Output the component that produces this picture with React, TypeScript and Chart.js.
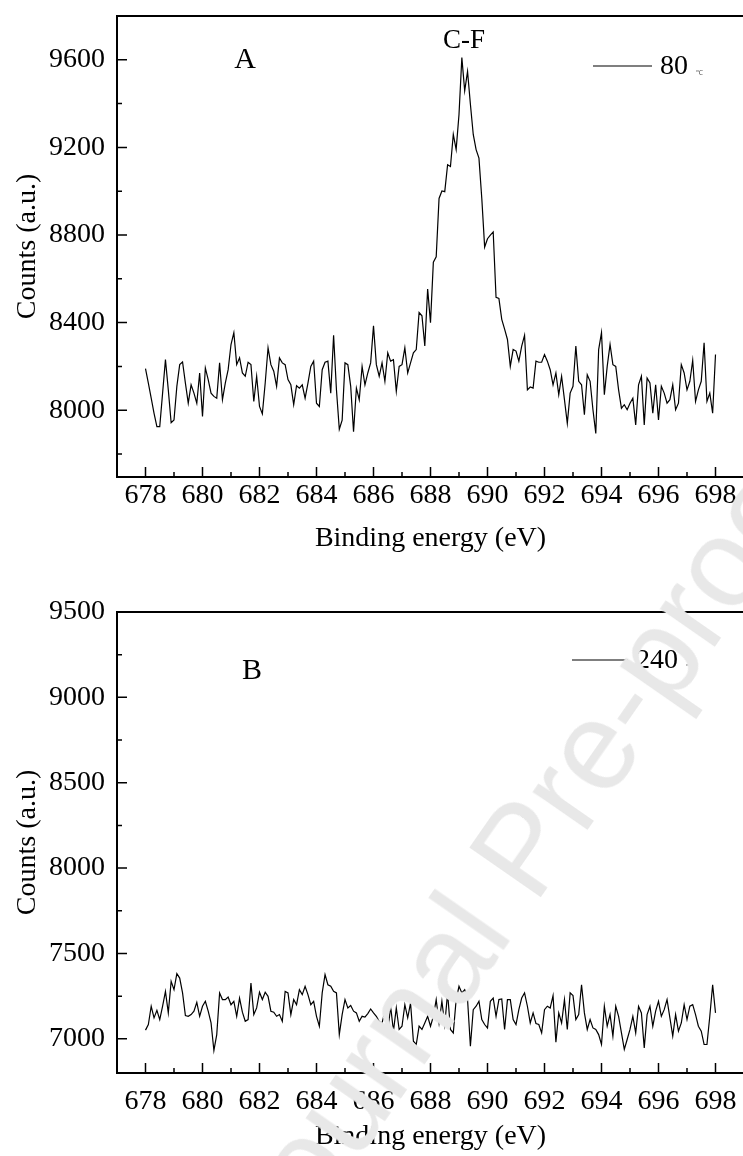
import { useEffect, useRef } from "react";
import { Chart, registerables } from "chart.js";

Chart.register(...registerables);

const SERIF = '"Liberation Serif", "Times New Roman", Times, serif';

// Sampling grid of the spectra (eV)
const energyStart = 678;
const energyStep = 0.1;

// Panel A (80 ℃) counts, 678.0 … 698.0 eV
const countsA = [
  8190, 8124, 8055, 7986, 7925, 7925, 8078, 8231, 8093, 7943,
  7955, 8109, 8208, 8220, 8124, 8032, 8116, 8078, 8032, 8170,
  7971, 8193, 8140, 8078, 8063, 8055, 8216, 8048, 8124, 8185,
  8300, 8354, 8208, 8239, 8170, 8155, 8219, 8208, 8040, 8155,
  8017, 7983, 8124, 8285, 8208, 8178, 8109, 8239, 8216, 8208,
  8140, 8116, 8025, 8112, 8101, 8116, 8055, 8124, 8200, 8224,
  8032, 8017, 8185, 8219, 8224, 8078, 8342, 8093, 7913, 7955,
  8216, 8208, 8109, 7902, 8101, 8048, 8200, 8116, 8170, 8216,
  8385, 8208, 8155, 8216, 8132, 8262, 8224, 8231, 8086, 8200,
  8208, 8285, 8170, 8216, 8262, 8277, 8446, 8431, 8293, 8553,
  8400, 8676, 8700, 8967, 9001, 8998, 9121, 9113, 9259, 9190,
  9350, 9610, 9458, 9547, 9397, 9259, 9190, 9151, 8967, 8745,
  8783, 8799, 8814, 8515, 8510, 8415, 8370, 8323, 8200, 8277,
  8270, 8224, 8293, 8342, 8093, 8106, 8101, 8224, 8219, 8219,
  8254, 8224, 8185, 8116, 8170, 8071, 8155, 8048, 7940, 8078,
  8109, 8293, 8132, 8116, 7979, 8162, 8132, 8002, 7894, 8277,
  8354, 8071, 8200, 8300, 8208, 8200, 8093, 8009, 8025, 8002,
  8032, 8055, 7933, 8116, 8155, 7933, 8147, 8124, 7986, 8116,
  7955, 8109, 8078, 8032, 8048, 8116, 8002, 8032, 8208, 8170,
  8093, 8132, 8228, 8040, 8093, 8132, 8308, 8040, 8078, 7986,
  8254,
];

// Panel B (240 ℃) counts, 678.0 … 698.0 eV
const countsB = [
  7051, 7084, 7191, 7123, 7167, 7113, 7191, 7278, 7152, 7337,
  7288, 7382, 7356, 7269, 7136, 7132, 7142, 7162, 7214, 7132,
  7191, 7220, 7162, 7093, 6932, 7025, 7269, 7230, 7230, 7245,
  7200, 7220, 7132, 7239, 7156, 7103, 7113, 7327, 7142, 7181,
  7273, 7230, 7273, 7249, 7162, 7156, 7132, 7142, 7103, 7278,
  7269, 7142, 7230, 7200, 7288, 7259, 7308, 7259, 7200, 7220,
  7132, 7074, 7269, 7376, 7317, 7308, 7278, 7269, 7025, 7142,
  7230, 7181, 7195, 7162, 7152, 7103, 7132, 7127, 7148, 7175,
  7152, 7132, 7103, 7093, 7162, 7035, 7191, 7045, 7181, 7055,
  7074, 7200, 7123, 7210, 6986, 6967, 7074, 7055, 7093, 7132,
  7074, 7132, 7230, 7093, 7220, 7084, 7269, 7055, 7035, 7230,
  7308, 7269, 7288, 7230, 6957, 7171, 7191, 7220, 7113, 7084,
  7064, 7220, 7239, 7132, 7230, 7234, 7055, 7230, 7230, 7113,
  7084, 7171, 7239, 7269, 7191, 7093, 7152, 7090, 7084, 7035,
  7171, 7191, 7181, 7253, 6981, 7152, 7093, 7230, 7055, 7269,
  7253, 7113, 7142, 7317, 7152, 7055, 7113, 7064, 7055, 7025,
  6967, 7191, 7074, 7142, 7016, 7191, 7132, 7035, 6938, 6996,
  7055, 7132, 7035, 7191, 7152, 6947, 7142, 7191, 7074, 7162,
  7220, 7132, 7171, 7230, 7123, 7016, 7142, 7045, 7093, 7200,
  7113, 7191, 7200, 7142, 7074, 7045, 6967, 6967, 7132, 7317,
  7152,
];

const xMajorTicks = [678, 680, 682, 684, 686, 688, 690, 692, 694, 696, 698];
const xMinorTicks = [679, 681, 683, 685, 687, 689, 691, 693, 695, 697];
const yMajorTicksA = [8000, 8400, 8800, 9200, 9600];
const yMinorTicksA = [7800, 8200, 8600, 9000, 9400];
const yMajorTicksB = [7000, 7500, 8000, 8500, 9000, 9500];
const yMinorTicksB = [7250, 7750, 8250, 8750, 9250];

const xLabel = "Binding energy (eV)";
const yLabel = "Counts (a.u.)";

type Deco = {
  panel: string;
  panelX: number;
  panelY: number;
  peakText?: string;
  peakX?: number;
  peakY?: number;
  legX1: number;
  legX2: number;
  legY: number;
  legText: string;
  yMajor: number[];
  yMinor: number[];
};

function decoPlugin(d: Deco) {
  return {
    id: "deco",
    afterDraw(chart: any) {
      const ctx = chart.ctx as CanvasRenderingContext2D;
      const a = chart.chartArea;
      const xs = chart.scales.x;
      const ys = chart.scales.y;
      ctx.save();
      ctx.strokeStyle = "#000";
      ctx.lineWidth = 1.5;
      ctx.beginPath();
      for (const v of xMajorTicks) {
        const px = xs.getPixelForValue(v);
        ctx.moveTo(px, a.bottom);
        ctx.lineTo(px, a.bottom - 10);
      }
      for (const v of xMinorTicks) {
        const px = xs.getPixelForValue(v);
        ctx.moveTo(px, a.bottom);
        ctx.lineTo(px, a.bottom - 5);
      }
      for (const v of d.yMajor) {
        const py = ys.getPixelForValue(v);
        ctx.moveTo(a.left, py);
        ctx.lineTo(a.left + 10, py);
      }
      for (const v of d.yMinor) {
        const py = ys.getPixelForValue(v);
        ctx.moveTo(a.left, py);
        ctx.lineTo(a.left + 5, py);
      }
      ctx.stroke();
      ctx.lineWidth = 2;
      ctx.strokeRect(a.left, a.top, a.right - a.left, a.bottom - a.top);

      ctx.fillStyle = "#000";
      ctx.textBaseline = "middle";
      ctx.textAlign = "center";
      ctx.font = `30px ${SERIF}`;
      ctx.fillText(d.panel, d.panelX, d.panelY);
      if (d.peakText) {
        ctx.font = `27px ${SERIF}`;
        ctx.fillText(d.peakText, d.peakX!, d.peakY!);
      }
      // legend
      ctx.lineWidth = 1.2;
      ctx.beginPath();
      ctx.moveTo(d.legX1, d.legY);
      ctx.lineTo(d.legX2, d.legY);
      ctx.stroke();
      ctx.textAlign = "left";
      ctx.font = `28px ${SERIF}`;
      ctx.fillText(d.legText, d.legX2 + 8, d.legY + 1);
      const w = ctx.measureText(d.legText).width;
      ctx.font = `7px ${SERIF}`;
      ctx.fillStyle = "#555";
      ctx.fillText("℃", d.legX2 + 8 + w + 8, d.legY + 7);
      ctx.restore();
    },
  };
}

function makeConfig(
  counts: number[],
  yMin: number,
  yMax: number,
  yTicks: number[],
  padTop: number,
  xTickPad: number,
  xTitlePad: number,
  deco: Deco
) {
  const points = counts.map((c, i) => ({ x: +(energyStart + i * energyStep).toFixed(1), y: c }));
  return {
    type: "line" as const,
    data: {
      datasets: [
        {
          data: points,
          borderColor: "#000",
          borderWidth: 1.2,
          pointRadius: 0,
          tension: 0,
          fill: false,
        },
      ],
    },
    options: {
      animation: false as const,
      responsive: false,
      layout: { padding: { top: padTop, right: 16, left: 0, bottom: 0 } },
      plugins: { legend: { display: false }, tooltip: { enabled: false } },
      scales: {
        x: {
          type: "linear" as const,
          min: 677,
          max: 699,
          afterBuildTicks: (s: any) => {
            s.ticks = xMajorTicks.map((v) => ({ value: v }));
          },
          afterFit: (s: any) => {
            s.height = 83;
            s.paddingLeft = 0;
            s.paddingRight = 0;
          },
          grid: { display: false, drawTicks: false },
          border: { display: false },
          ticks: {
            color: "#000",
            font: { family: SERIF, size: 28 },
            padding: xTickPad,
            maxRotation: 0,
            autoSkip: false,
            callback: (v: any) => String(v),
          },
          title: {
            display: true,
            text: xLabel,
            color: "#000",
            font: { family: SERIF, size: 28 },
            padding: { top: 0, bottom: xTitlePad },
          },
        },
        y: {
          type: "linear" as const,
          min: yMin,
          max: yMax,
          afterBuildTicks: (s: any) => {
            s.ticks = yTicks.map((v) => ({ value: v }));
          },
          afterFit: (s: any) => {
            s.width = 117;
            s.paddingTop = 0;
            s.paddingBottom = 0;
          },
          grid: { display: false, drawTicks: false },
          border: { display: false },
          ticks: {
            color: "#000",
            font: { family: SERIF, size: 28 },
            padding: 12,
            autoSkip: false,
            callback: (v: any) => String(v),
          },
          title: {
            display: true,
            text: yLabel,
            color: "#000",
            font: { family: SERIF, size: 28 },
            padding: { top: 11, bottom: 0 },
          },
        },
      },
    },
    plugins: [decoPlugin(deco)],
  };
}

function ChartBox({ config, top, height }: { config: any; top: number; height: number }) {
  const ref = useRef<HTMLCanvasElement | null>(null);
  useEffect(() => {
    if (!ref.current) return;
    const chart = new Chart(ref.current, config);
    return () => chart.destroy();
  }, [config]);
  return (
    <canvas
      ref={ref}
      width={760}
      height={height}
      style={{ position: "absolute", left: 0, top, width: 760, height }}
    />
  );
}

const configA = makeConfig(countsA, 7695, 9800, yMajorTicksA, 16, 2, 5, {
  panel: "A",
  panelX: 245,
  panelY: 60,
  peakText: "C-F",
  peakX: 464,
  peakY: 41,
  legX1: 593,
  legX2: 652,
  legY: 66,
  legText: "80",
  yMajor: yMajorTicksA,
  yMinor: yMinorTicksA,
});

const configB = makeConfig(countsB, 6800, 9500, yMajorTicksB, 52, 12, 3, {
  panel: "B",
  panelX: 252,
  panelY: 111,
  legX1: 572,
  legX2: 628,
  legY: 100,
  legText: "240",
  yMajor: yMajorTicksB,
  yMinor: yMinorTicksB,
});

export default function App() {
  return (
    <div
      style={{
        position: "absolute",
        left: 0,
        top: 0,
        width: 743,
        height: 1156,
        overflow: "hidden",
        background: "#fff",
      }}
    >
      <ChartBox config={configA} top={0} height={560} />
      <ChartBox config={configB} top={560} height={596} />
      <span
        style={{
          position: "absolute",
          left: 522,
          top: 849.5,
          transform: "translate(-50%, -50%) rotate(-55.2deg)",
          fontFamily: '"Liberation Sans", Arial, sans-serif',
          fontSize: 125.3,
          lineHeight: 1,
          color: "#e8e8e8",
          whiteSpace: "nowrap",
          pointerEvents: "none",
          zIndex: 2,
        }}
      >
        Journal Pre-proof
      </span>
    </div>
  );
}
